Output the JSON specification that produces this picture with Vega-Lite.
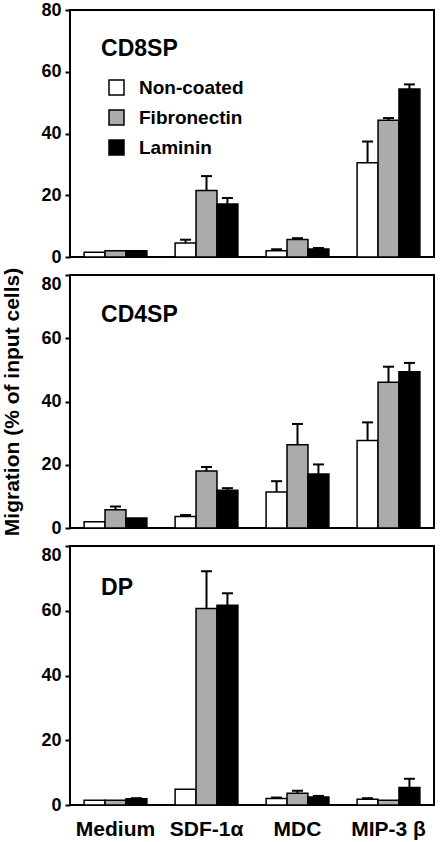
{
  "$schema": "https://vega.github.io/schema/vega-lite/v6.json",
  "padding": {"left": 0, "top": 0, "right": 5, "bottom": 0},
  "background": "white",
  "config": {
    "font": "Liberation Sans",
    "view": {"stroke": "black", "strokeWidth": 2},
    "axis": {"grid": false, "domain": false, "labelColor": "black", "titleColor": "black", "labelFontWeight": "bold", "titleFontWeight": "bold"},
    "axisY": {"tickSize": 5, "tickWidth": 2, "tickColor": "black", "labelFontSize": 18, "labelPadding": 4, "titleFontSize": 21, "titlePadding": 18},
    "axisX": {"ticks": false, "tickSize": 0, "labelFontSize": 21, "labelPadding": 13, "labelAngle": 0}
  },
  "datasets": {
    "bars": [
      {"panel": "CD8SP", "chem": "Medium", "coating": "Non-coated", "value": 1.5, "hi": null},
      {"panel": "CD8SP", "chem": "Medium", "coating": "Fibronectin", "value": 2.0, "hi": null},
      {"panel": "CD8SP", "chem": "Medium", "coating": "Laminin", "value": 2.0, "hi": null},
      {"panel": "CD8SP", "chem": "SDF-1α", "coating": "Non-coated", "value": 4.5, "hi": 5.6},
      {"panel": "CD8SP", "chem": "SDF-1α", "coating": "Fibronectin", "value": 21.5, "hi": 26.2},
      {"panel": "CD8SP", "chem": "SDF-1α", "coating": "Laminin", "value": 17.2, "hi": 19.1},
      {"panel": "CD8SP", "chem": "MDC", "coating": "Non-coated", "value": 2.0, "hi": 2.5},
      {"panel": "CD8SP", "chem": "MDC", "coating": "Fibronectin", "value": 5.7, "hi": 6.1},
      {"panel": "CD8SP", "chem": "MDC", "coating": "Laminin", "value": 2.6, "hi": 2.9},
      {"panel": "CD8SP", "chem": "MIP-3 β", "coating": "Non-coated", "value": 30.5, "hi": 37.4},
      {"panel": "CD8SP", "chem": "MIP-3 β", "coating": "Fibronectin", "value": 44.3, "hi": 45.0},
      {"panel": "CD8SP", "chem": "MIP-3 β", "coating": "Laminin", "value": 54.4, "hi": 55.9},
      {"panel": "CD4SP", "chem": "Medium", "coating": "Non-coated", "value": 2.0, "hi": null},
      {"panel": "CD4SP", "chem": "Medium", "coating": "Fibronectin", "value": 5.8, "hi": 6.8},
      {"panel": "CD4SP", "chem": "Medium", "coating": "Laminin", "value": 3.2, "hi": null},
      {"panel": "CD4SP", "chem": "SDF-1α", "coating": "Non-coated", "value": 3.6, "hi": 4.1},
      {"panel": "CD4SP", "chem": "SDF-1α", "coating": "Fibronectin", "value": 18.0, "hi": 19.3},
      {"panel": "CD4SP", "chem": "SDF-1α", "coating": "Laminin", "value": 11.9, "hi": 12.6},
      {"panel": "CD4SP", "chem": "MDC", "coating": "Non-coated", "value": 11.4, "hi": 14.8},
      {"panel": "CD4SP", "chem": "MDC", "coating": "Fibronectin", "value": 26.3, "hi": 32.9},
      {"panel": "CD4SP", "chem": "MDC", "coating": "Laminin", "value": 17.1, "hi": 20.1},
      {"panel": "CD4SP", "chem": "MIP-3 β", "coating": "Non-coated", "value": 27.7, "hi": 33.4},
      {"panel": "CD4SP", "chem": "MIP-3 β", "coating": "Fibronectin", "value": 46.1, "hi": 51.0},
      {"panel": "CD4SP", "chem": "MIP-3 β", "coating": "Laminin", "value": 49.4, "hi": 52.2},
      {"panel": "DP", "chem": "Medium", "coating": "Non-coated", "value": 1.5, "hi": null},
      {"panel": "DP", "chem": "Medium", "coating": "Fibronectin", "value": 1.5, "hi": null},
      {"panel": "DP", "chem": "Medium", "coating": "Laminin", "value": 1.9, "hi": 2.1},
      {"panel": "DP", "chem": "SDF-1α", "coating": "Non-coated", "value": 4.9, "hi": null},
      {"panel": "DP", "chem": "SDF-1α", "coating": "Fibronectin", "value": 60.7, "hi": 72.2},
      {"panel": "DP", "chem": "SDF-1α", "coating": "Laminin", "value": 61.7, "hi": 65.4},
      {"panel": "DP", "chem": "MDC", "coating": "Non-coated", "value": 2.0, "hi": 2.3},
      {"panel": "DP", "chem": "MDC", "coating": "Fibronectin", "value": 3.6, "hi": 4.4},
      {"panel": "DP", "chem": "MDC", "coating": "Laminin", "value": 2.5, "hi": 2.8},
      {"panel": "DP", "chem": "MIP-3 β", "coating": "Non-coated", "value": 1.8, "hi": 2.1},
      {"panel": "DP", "chem": "MIP-3 β", "coating": "Fibronectin", "value": 1.5, "hi": null},
      {"panel": "DP", "chem": "MIP-3 β", "coating": "Laminin", "value": 5.4, "hi": 8.1}
    ]
  },
  "spacing": 18,
  "bounds": "flush",
  "resolve": {"scale": {"x": "independent", "y": "independent", "color": "shared"}},
  "vconcat": [
    {
      "width": 364, "height": 247,
      "data": {"name": "bars"},
      "transform": [{"filter": "datum.panel == 'CD8SP'"}],
      "encoding": {
        "x": {"field": "chem", "type": "nominal", "sort": ["Medium", "SDF-1α", "MDC", "MIP-3 β"], "scale": {"paddingInner": 0.31, "paddingOuter": 0.155}, "axis": {"labels": false, "title": null}}
      },
      "layer": [
        {
          "mark": {"type": "bar", "stroke": "black", "strokeWidth": 1.5},
          "encoding": {
            "xOffset": {"field": "coating", "sort": ["Non-coated", "Fibronectin", "Laminin"]},
            "y": {"field": "value", "type": "quantitative", "scale": {"domain": [0, 80], "nice": false}, "axis": {"values": [0, 20, 40, 60, 80], "title": null}},
            "color": {"field": "coating", "type": "nominal", "sort": ["Non-coated", "Fibronectin", "Laminin"], "scale": {"domain": ["Non-coated", "Fibronectin", "Laminin"], "range": ["white", "#ababab", "black"]},
              "legend": {"orient": "none", "legendX": 37, "legendY": 68, "title": null, "symbolType": "square", "symbolSize": 225, "symbolStrokeColor": "black", "symbolStrokeWidth": 1.5, "symbolOpacity": 1, "labelFontSize": 19, "labelFontWeight": "bold", "labelColor": "black", "labelOffset": 13, "rowPadding": 9, "padding": 0}}
          }
        },
        {
          "transform": [{"filter": "isValid(datum.hi)"}],
          "mark": {"type": "rule", "strokeWidth": 2, "color": "black"},
          "encoding": {"xOffset": {"field": "coating", "sort": ["Non-coated", "Fibronectin", "Laminin"]}, "y": {"field": "value", "type": "quantitative"}, "y2": {"field": "hi"}}
        },
        {
          "transform": [{"filter": "isValid(datum.hi)"}],
          "mark": {"type": "tick", "color": "black", "thickness": 2, "size": 11, "opacity": 1},
          "encoding": {"xOffset": {"field": "coating", "sort": ["Non-coated", "Fibronectin", "Laminin"]}, "y": {"field": "hi", "type": "quantitative"}}
        },
        {
          "data": {"values": [{"label": "CD8SP"}]},
          "mark": {"type": "text", "align": "left", "baseline": "alphabetic", "fontSize": 23, "fontWeight": "bold", "color": "black", "dx": 17},
          "encoding": {"x": {"datum": "Medium", "bandPosition": 0}, "y": {"datum": 65}, "text": {"field": "label"}}
        }
      ]
    },
    {
      "width": 364, "height": 253,
      "data": {"name": "bars"},
      "transform": [{"filter": "datum.panel == 'CD4SP'"}],
      "encoding": {
        "x": {"field": "chem", "type": "nominal", "sort": ["Medium", "SDF-1α", "MDC", "MIP-3 β"], "scale": {"paddingInner": 0.31, "paddingOuter": 0.155}, "axis": {"labels": false, "title": null}}
      },
      "layer": [
        {
          "mark": {"type": "bar", "stroke": "black", "strokeWidth": 1.5},
          "encoding": {
            "xOffset": {"field": "coating", "sort": ["Non-coated", "Fibronectin", "Laminin"]},
            "y": {"field": "value", "type": "quantitative", "scale": {"domain": [0, 80], "nice": false}, "axis": {"values": [0, 20, 40, 60, 80], "title": "Migration (% of input cells)", "labelBaseline": {"condition": {"test": "datum.value == 80", "value": "top"}, "value": "middle"}}},
            "color": {"field": "coating", "type": "nominal", "sort": ["Non-coated", "Fibronectin", "Laminin"],
              "legend": {"orient": "none", "legendX": 37, "legendY": 68, "title": null, "symbolType": "square", "symbolSize": 225, "symbolStrokeColor": "black", "symbolStrokeWidth": 1.5, "symbolOpacity": 1, "labelFontSize": 19, "labelFontWeight": "bold", "labelColor": "black", "labelOffset": 13, "rowPadding": 9, "padding": 0}}
          }
        },
        {
          "transform": [{"filter": "isValid(datum.hi)"}],
          "mark": {"type": "rule", "strokeWidth": 2, "color": "black"},
          "encoding": {"xOffset": {"field": "coating", "sort": ["Non-coated", "Fibronectin", "Laminin"]}, "y": {"field": "value", "type": "quantitative"}, "y2": {"field": "hi"}}
        },
        {
          "transform": [{"filter": "isValid(datum.hi)"}],
          "mark": {"type": "tick", "color": "black", "thickness": 2, "size": 11, "opacity": 1},
          "encoding": {"xOffset": {"field": "coating", "sort": ["Non-coated", "Fibronectin", "Laminin"]}, "y": {"field": "hi", "type": "quantitative"}}
        },
        {
          "data": {"values": [{"label": "CD4SP"}]},
          "mark": {"type": "text", "align": "left", "baseline": "alphabetic", "fontSize": 23, "fontWeight": "bold", "color": "black", "dx": 17},
          "encoding": {"x": {"datum": "Medium", "bandPosition": 0}, "y": {"datum": 65}, "text": {"field": "label"}}
        }
      ]
    },
    {
      "width": 364, "height": 259,
      "data": {"name": "bars"},
      "transform": [{"filter": "datum.panel == 'DP'"}],
      "encoding": {
        "x": {"field": "chem", "type": "nominal", "sort": ["Medium", "SDF-1α", "MDC", "MIP-3 β"], "scale": {"paddingInner": 0.31, "paddingOuter": 0.155}, "axis": {"title": null}}
      },
      "layer": [
        {
          "mark": {"type": "bar", "stroke": "black", "strokeWidth": 1.5},
          "encoding": {
            "xOffset": {"field": "coating", "sort": ["Non-coated", "Fibronectin", "Laminin"]},
            "y": {"field": "value", "type": "quantitative", "scale": {"domain": [0, 80], "nice": false}, "axis": {"values": [0, 20, 40, 60, 80], "title": null, "labelBaseline": {"condition": {"test": "datum.value == 80", "value": "top"}, "value": "middle"}}},
            "color": {"field": "coating", "type": "nominal", "sort": ["Non-coated", "Fibronectin", "Laminin"],
              "legend": {"orient": "none", "legendX": 37, "legendY": 68, "title": null, "symbolType": "square", "symbolSize": 225, "symbolStrokeColor": "black", "symbolStrokeWidth": 1.5, "symbolOpacity": 1, "labelFontSize": 19, "labelFontWeight": "bold", "labelColor": "black", "labelOffset": 13, "rowPadding": 9, "padding": 0}}
          }
        },
        {
          "transform": [{"filter": "isValid(datum.hi)"}],
          "mark": {"type": "rule", "strokeWidth": 2, "color": "black"},
          "encoding": {"xOffset": {"field": "coating", "sort": ["Non-coated", "Fibronectin", "Laminin"]}, "y": {"field": "value", "type": "quantitative"}, "y2": {"field": "hi"}}
        },
        {
          "transform": [{"filter": "isValid(datum.hi)"}],
          "mark": {"type": "tick", "color": "black", "thickness": 2, "size": 11, "opacity": 1},
          "encoding": {"xOffset": {"field": "coating", "sort": ["Non-coated", "Fibronectin", "Laminin"]}, "y": {"field": "hi", "type": "quantitative"}}
        },
        {
          "data": {"values": [{"label": "DP"}]},
          "mark": {"type": "text", "align": "left", "baseline": "alphabetic", "fontSize": 23, "fontWeight": "bold", "color": "black", "dx": 17},
          "encoding": {"x": {"datum": "Medium", "bandPosition": 0}, "y": {"datum": 65}, "text": {"field": "label"}}
        }
      ]
    }
  ]
}
